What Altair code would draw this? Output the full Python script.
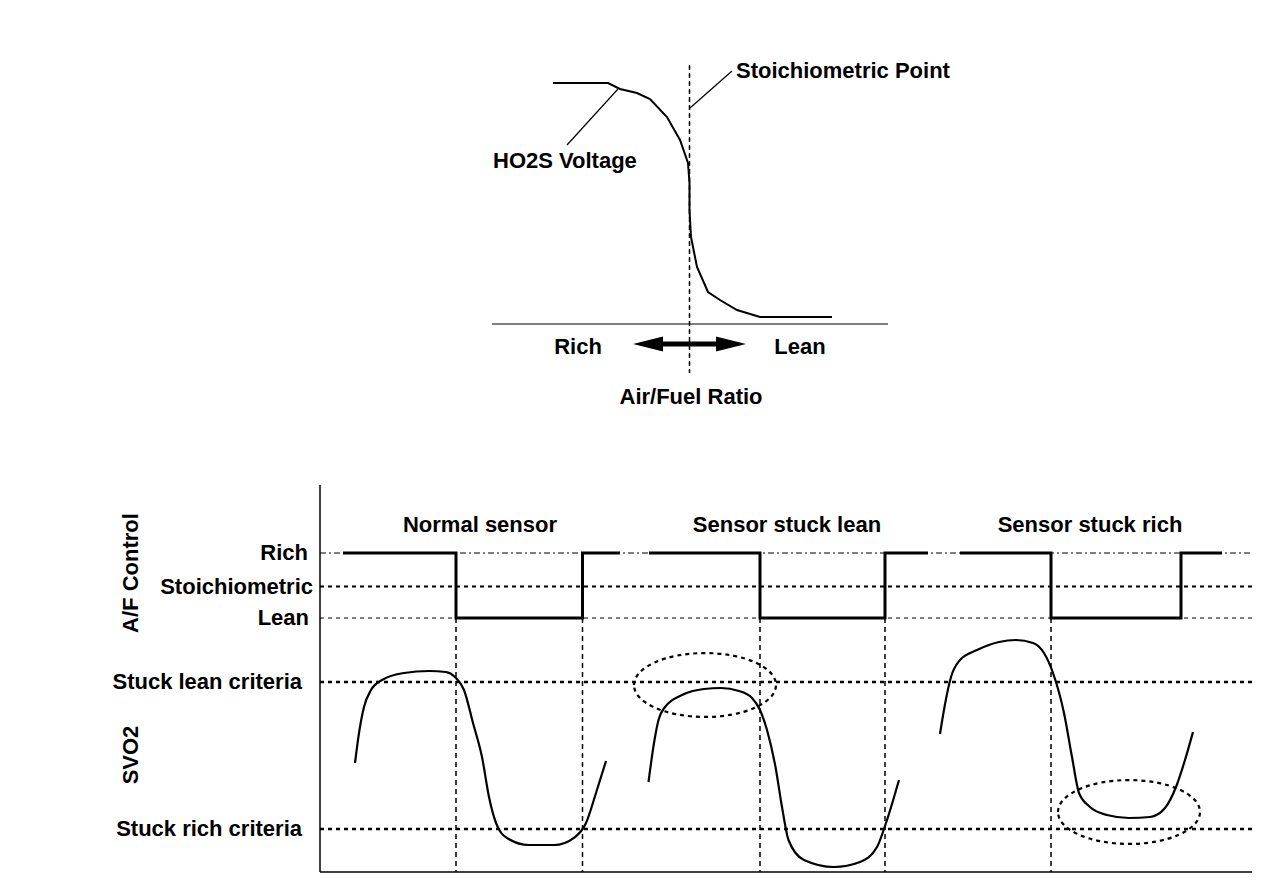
import altair as alt
import pandas as pd

FONT = "Liberation Sans"
FS = 22

# ---------------- Top panel: HO2S voltage vs air/fuel ratio (diagram units) ----------------
ho2s_x = [553, 608, 620, 637, 650, 667, 680, 688, 689.5, 689.5, 691, 697, 708, 720, 737, 760, 832]
ho2s_y = [83, 83, 89, 93, 99, 117, 140, 163, 183, 210, 237, 267, 292, 300, 310, 317, 317]
stoich_point_x = 689.5
stoich_line_span = [65, 373]
af_axis_span = [492, 888]
af_axis_level = 324
leader_x = [690, 618]
leader_x2 = [732, 567]
leader_y = [108, 89]
leader_y2 = [71, 145]
arrow_span = [648, 731]
arrow_level = 344

top_labels = ["Stoichiometric Point", "HO2S Voltage"]
top_label_x = [736, 493]
top_label_y = [71, 161]
axis_words = ["Rich", "Lean", "Air/Fuel Ratio"]
axis_word_x = [578, 800, 691]
axis_word_y = [347, 347, 397]

# ---------------- Bottom panel: A/F control and SVO2 ----------------
panel_left, panel_right = 320, 1252
panel_top, panel_bottom = 485, 872
level_names = ["Rich", "Stoichiometric", "Lean", "Stuck lean criteria", "Stuck rich criteria"]
level_y = [553, 586.5, 618, 682, 829]
label_right = [308, 313, 309, 302, 302]
switch_times = [456, 582.5, 760, 885, 1051]

case_titles = ["Normal sensor", "Sensor stuck lean", "Sensor stuck rich"]
case_title_x = [480, 787, 1090]
case_title_y = 525

# A/F control square wave, one segment per case
sq_seg = [1] * 6 + [2] * 6 + [3] * 6
sq_x = [343, 456, 456, 582.5, 582.5, 620,
        649, 760, 760, 885, 885, 928,
        960, 1051, 1051, 1181, 1181, 1222]
sq_y = [553, 553, 618, 618, 553, 553] * 3

# SVO2 traces
normal_x = [355, 359, 364, 371, 382, 404, 429, 446, 455, 464, 473, 482, 489, 496, 507, 529, 554, 575, 586, 596, 606]
normal_y = [763, 733, 707, 690, 680, 673, 671, 672, 677, 690, 723, 757, 797, 823, 838, 845, 845, 837, 823, 793, 761]
lean_x = [648.5, 654, 658.5, 665, 682, 704, 721, 739, 752, 760, 767, 775.5, 782, 788.5, 804, 834, 860, 877, 886, 899]
lean_y = [782, 743, 720, 707, 695, 689, 688, 691, 698, 710, 730, 767, 807, 840, 860, 867, 862, 847, 823, 780]
rich_x = [940, 944.5, 951, 960, 977, 999, 1016, 1033, 1044, 1053, 1064, 1072, 1079, 1090, 1107, 1129, 1150, 1165, 1176, 1185, 1193]
rich_y = [734, 707, 677, 660, 650, 642, 640, 643, 653, 673, 713, 757, 793, 807, 815, 818, 817, 808, 787, 760, 732]

# highlight ellipses
ellipse_x = [705, 1129]
ellipse_y = [685, 812]
ellipse_width = 142

side_titles = ["A/F Control", "SVO2"]
side_title_x = 131
side_title_y = [573, 755]

# ---------------- helpers ----------------
XS = alt.Scale(domain=[8, 1272], nice=False, zero=False)
YS = alt.Scale(domain=[8, 882], nice=False, zero=False, reverse=True)


def X(f="x"):
    return alt.X(f"{f}:Q", scale=XS, axis=None)


def Y(f="y"):
    return alt.Y(f"{f}:Q", scale=YS, axis=None)


def line(xs, ys, width, dash=None, interp="linear", seg=None):
    df = pd.DataFrame({"x": xs, "y": ys, "i": list(range(len(xs)))})
    kw = dict(color="black", strokeWidth=width, interpolate=interp)
    if dash:
        kw["strokeDash"] = dash
    enc = dict(x=X(), y=Y(), order="i:Q")
    if seg is not None:
        df["seg"] = seg
        enc["detail"] = "seg:N"
    return alt.Chart(df).mark_line(**kw).encode(**enc)


def rules(x, x2, y, y2, width, dash=None):
    df = pd.DataFrame({"x": x, "x2": x2, "y": y, "y2": y2})
    kw = dict(color="black", strokeWidth=width)
    if dash:
        kw["strokeDash"] = dash
    return alt.Chart(df).mark_rule(**kw).encode(
        x=X(), x2=alt.X2("x2:Q"), y=Y(), y2=alt.Y2("y2:Q"))


def texts(labels, xs, ys, align, angle=0):
    df = pd.DataFrame({"x": xs, "y": ys, "t": labels})
    return alt.Chart(df).mark_text(
        font=FONT, fontSize=FS, fontWeight="bold", color="black",
        align=align, baseline="middle", angle=angle,
    ).encode(x=X(), y=Y(), text="t:N")


layers = []

# top panel
layers.append(rules([stoich_point_x], [stoich_point_x], [stoich_line_span[0]], [stoich_line_span[1]], 1.5, [5, 3]))
layers.append(rules([af_axis_span[0]], [af_axis_span[1]], [af_axis_level], [af_axis_level], 1.2))
layers.append(rules(leader_x, leader_x2, leader_y, leader_y2, 1.2))
layers.append(line(ho2s_x, ho2s_y, 2))
layers.append(rules([arrow_span[0]], [arrow_span[1]], [arrow_level], [arrow_level], 5))
head_df = pd.DataFrame({"x": arrow_span, "y": [arrow_level] * 2, "d": ["L", "R"]})
layers.append(alt.Chart(head_df[head_df.d == "L"]).mark_point(
    shape="M -1 0 L 1 -0.5 L 1 0.5 Z", size=900, filled=True, color="black", opacity=1
).encode(x=X(), y=Y()))
layers.append(alt.Chart(head_df[head_df.d == "R"]).mark_point(
    shape="M 1 0 L -1 -0.5 L -1 0.5 Z", size=900, filled=True, color="black", opacity=1
).encode(x=X(), y=Y()))
layers.append(texts(top_labels, top_label_x, top_label_y, "left"))
layers.append(texts(axis_words, axis_word_x, axis_word_y, "center"))

# bottom panel guides
layers.append(rules([panel_left], [panel_right], [level_y[0]], [level_y[0]], 1.2, [6, 3, 2, 3]))
layers.append(rules([panel_left], [panel_right], [level_y[1]], [level_y[1]], 1.8, [4, 4]))
layers.append(rules([panel_left], [panel_right], [level_y[2]], [level_y[2]], 1.0, [4, 4]))
layers.append(rules([panel_left] * 2, [panel_right] * 2, level_y[3:], level_y[3:], 2.5, [4, 4]))
layers.append(rules(switch_times, switch_times, [level_y[2]] * len(switch_times),
                    [panel_bottom] * len(switch_times), 1.5, [5, 4]))
# axes
layers.append(rules([panel_left], [panel_left], [panel_top], [panel_bottom], 1.5))
layers.append(rules([panel_left], [panel_right], [panel_bottom], [panel_bottom], 1.5))

# signals
layers.append(line(sq_x, sq_y, 3, seg=sq_seg))
layers.append(line(normal_x, normal_y, 2.2, interp="monotone"))
layers.append(line(lean_x, lean_y, 2.2, interp="monotone"))
layers.append(line(rich_x, rich_y, 2.2, interp="monotone"))

ell_df = pd.DataFrame({"x": ellipse_x, "y": ellipse_y})
ellipse_path = ("M -1 0 C -1 -0.2485 -0.5523 -0.45 0 -0.45 C 0.5523 -0.45 1 -0.2485 1 0 "
                "C 1 0.2485 0.5523 0.45 0 0.45 C -0.5523 0.45 -1 0.2485 -1 0 Z")
layers.append(alt.Chart(ell_df).mark_point(
    shape=ellipse_path, size=ellipse_width ** 2, filled=False, color="black",
    strokeWidth=2.2, strokeDash=[4, 4], opacity=1
).encode(x=X(), y=Y()))

# labels
layers.append(texts(case_titles, case_title_x, [case_title_y] * 3, "center"))
layers.append(texts(level_names, label_right, level_y, "right"))
layers.append(texts(side_titles, [side_title_x] * 2, side_title_y, "center", angle=270))

chart = alt.layer(*layers).properties(
    width=1264, height=874, autosize=alt.AutoSizeParams(type="none"), padding=0,
    background="white",
).configure_view(stroke=None)

chart.save("out.html", embed_options={"renderer": "svg", "actions": False})
